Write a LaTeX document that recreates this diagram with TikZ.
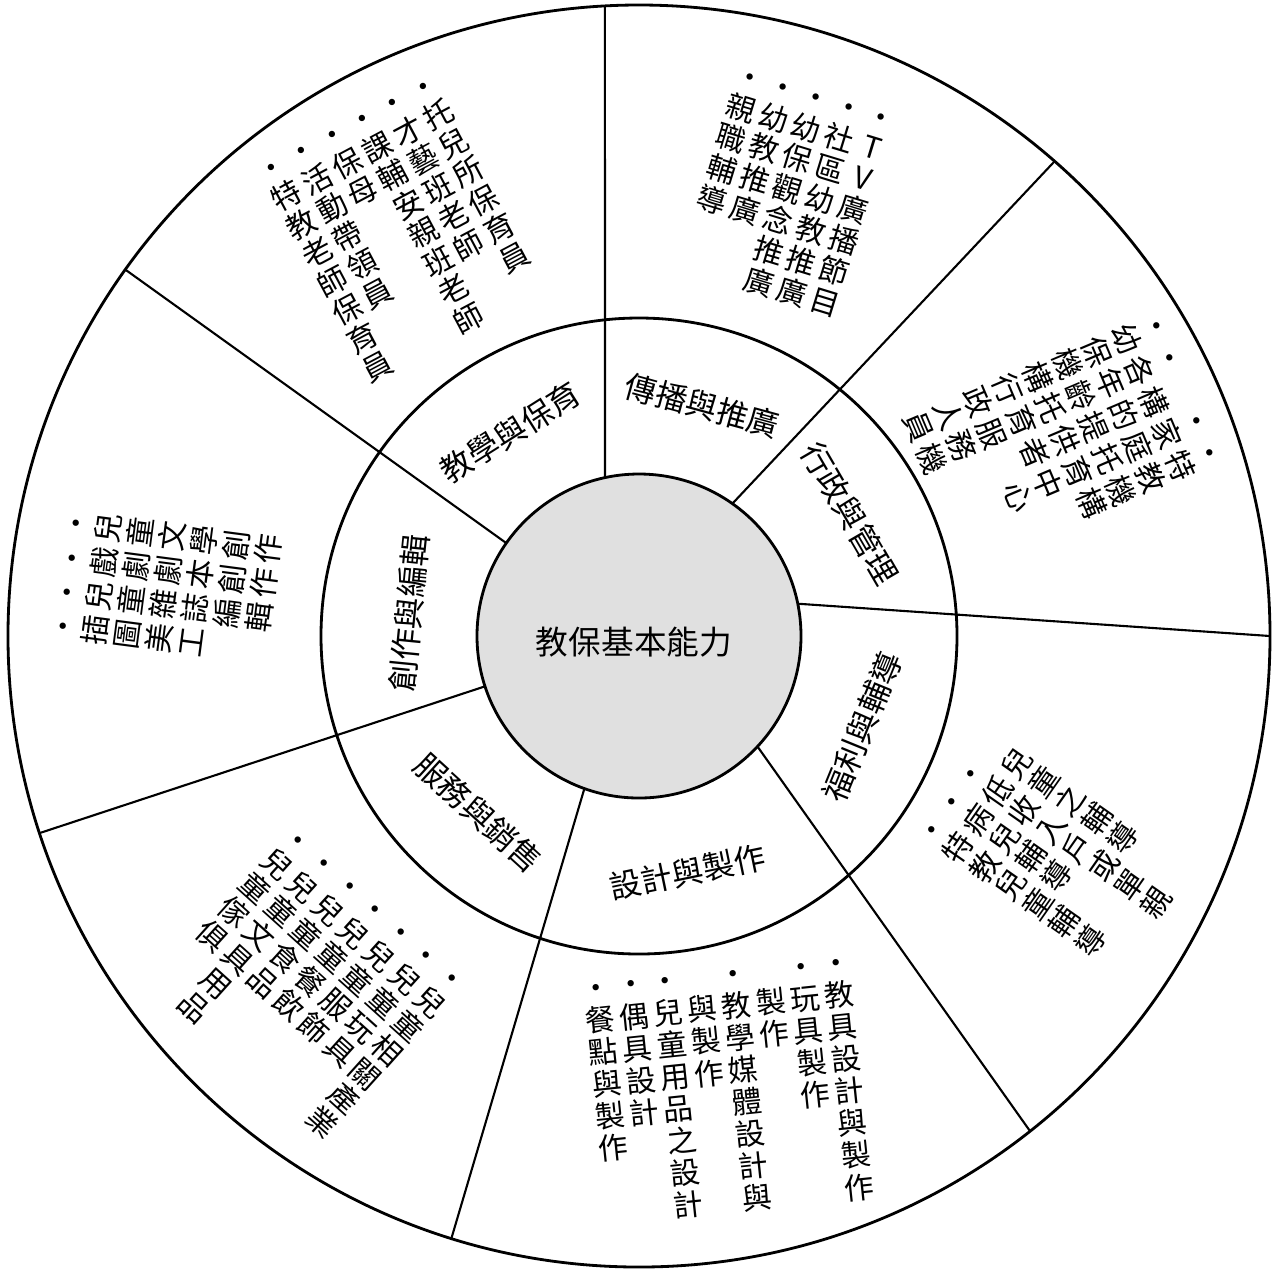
\documentclass[tikz,border=0pt]{standalone}
\usepackage{fontspec}
\usepackage{tikz}

\newfontfamily\cjk{Noto Sans CJK TC}

\newcommand\vstackend{}
\def\vstackdo#1{\ifx#1\vstackend\else\hbox to\hsize{\hss\vrule height .85em depth .2em width 0pt\relax#1\hss}\expandafter\vstackdo\fi}
\newcommand\vstack[1]{\vtop{\hsize=1.15em\baselineskip=1.08em\lineskiplimit=-2em\lineskip=0pt\vstackdo#1\vstackend}}

\begin{document}
\begin{tikzpicture}[scale=1,
  ring/.style={line width=0.8pt},
  spoke/.style={line width=0.6pt},
  field/.style={font=\cjk\fontsize{9}{11}\selectfont, inner sep=0pt},
  jobs/.style={font=\cjk\fontsize{8.5}{9}\selectfont, inner sep=0pt, anchor=north east}]

\useasboundingbox (-6.39,-6.33) rectangle (6.38,6.36);

\coordinate (O) at (0,0);

\coordinate (A1) at (102.1:1.62);
\coordinate (B1) at (93.1:6.31);
\coordinate (A2) at (54.8:1.62);
\coordinate (B2) at (48.8:6.31);
\coordinate (A3) at (11.5:1.62);
\coordinate (B3) at (0:6.31);
\coordinate (A4) at (-43:1.62);
\coordinate (B4) at (-51.7:6.31);
\coordinate (A5) at (-109.7:1.62);
\coordinate (B5) at (-107.3:6.31);
\coordinate (A6) at (-161.9:1.62);
\coordinate (B6) at (-161.8:6.31);
\coordinate (A7) at (145:1.62);
\coordinate (B7) at (144.5:6.31);

\draw[spoke] (A1) -- (B1);
\draw[spoke] (A2) -- (B2);
\draw[spoke] (A3) -- (B3);
\draw[spoke] (A4) -- (B4);
\draw[spoke] (A5) -- (B5);
\draw[spoke] (A6) -- (B6);
\draw[spoke] (A7) -- (B7);

\draw[ring] (O) circle (6.31);
\draw[ring] (O) circle (3.18);

\node[circle, draw, ring, fill=black!12, minimum size=3.24cm, inner sep=0pt] (core) at (O) {};
\node[font=\cjk\fontsize{9.3}{11}\selectfont, inner sep=0pt] (corelabel) at (-0.05,-0.06) {教保基本能力};

\node[field, rotate=-15.3] (spread) at (74.7:2.39) {傳播與推廣};
\node[field, rotate=32.3] (teach) at (122.3:2.41) {教學與保育};
\node[field, rotate=-59.8] (admin) at (30.2:2.44) {行政與管理};
\node[field, rotate=67.8] (welfare) at (-22.2:2.41) {福利與輔導};
\node[field, rotate=11.7] (design) at (-78.3:2.41) {設計與製作};
\node[field, rotate=-42.3] (sales) at (-132.3:2.39) {服務與銷售};
\node[field, rotate=84.3] (write) at (174.3:2.31) {創作與編輯};

\node[jobs, rotate=-17] (spreadjobs) at (2.64,5.28) {%
\vstack{•親職輔導}\vstack{•幼教推廣}\vstack{•幼保觀念推廣}\vstack{•社區幼教推廣}\vstack{•TV廣播節目}};

\node[jobs, rotate=28] (teachjobs) at (-2.07,5.71) {%
\vstack{•特教老師保育員}\vstack{•活動帶領員}\vstack{•保母}\vstack{•課輔安親班老師}\vstack{•才藝班老師}\vstack{•托兒所保育員}};

\node[jobs, anchor=north west, rotate=-67] (adminjobs) at (5.24,3.32) {%
\vstack{•幼保機構行政人員}\vstack{•各年齡托育服務機}\vstack{\null 構的提供者}\vstack{•家庭托育中心}\vstack{•特教機構}};

\node[jobs, rotate=55] (welfarejobs) at (3.50,-0.86) {%
\vstack{•特教兒童輔導}\vstack{•病兒輔導}\vstack{•低收入戶或單親}\vstack{\null 兒童之輔導}};

\node[jobs, rotate=6] (designjobs) at (2.13,-3.10) {%
\vstack{•餐點與製作}\vstack{•偶具設計}\vstack{•兒童用品之設計}\vstack{\null 與製作}\vstack{•教學媒體設計與}\vstack{\null 製作}\vstack{•玩具製作}\vstack{•教具設計與製作}};

\node[jobs, rotate=-42] (salesjobs) at (-1.64,-3.43) {%
\vstack{•兒童傢俱}\vstack{•兒童文具用品}\vstack{•兒童食品}\vstack{•兒童餐飲}\vstack{•兒童服飾}\vstack{•兒童玩具}\vstack{•兒童相關產業}};

\node[jobs, rotate=82.5] (writejobs) at (-5.75,1.32) {%
\vstack{•插圖美工}\vstack{•兒童雜誌編輯}\vstack{•戲劇劇本創作}\vstack{•兒童文學創作}};

\end{tikzpicture}
\end{document}
